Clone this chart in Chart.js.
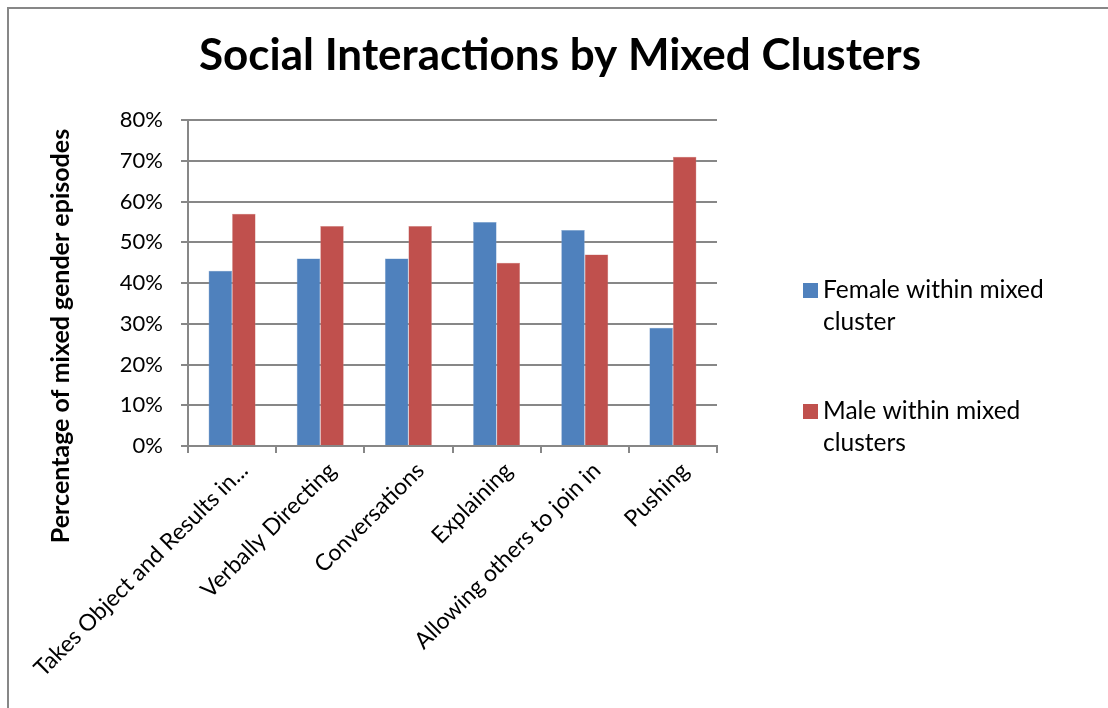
<!DOCTYPE html>
<html>
<head>
<meta charset="utf-8">
<script src="https://cdn.jsdelivr.net/npm/chart.js@4/dist/chart.umd.min.js"></script>
<style>
  body { margin: 0; background: #fff; }
  #wrap { position: relative; width: 1108px; height: 708px; }
  #frame { position: absolute; left: 7px; top: 7px; width: 1120px; height: 720px; border-left: 2px solid #878787; border-top: 2px solid #878787; pointer-events: none; }
</style>
</head>
<body>
<div id="wrap">
  <canvas id="chart" width="1108" height="708"></canvas>
  <div id="frame"></div>
</div>
<script>
const categories = ["Takes Object and Results in...", "Verbally Directing", "Conversations", "Explaining", "Allowing others to join in", "Pushing"];
const femaleValues = [43, 46, 46, 55, 53, 29];
const maleValues = [57, 54, 54, 45, 47, 71];
const seriesNames = [["Female within mixed", "cluster"], ["Male within mixed", "clusters"]];
const yTicks = [0, 10, 20, 30, 40, 50, 60, 70, 80];
const chartTitle = "Social Interactions by Mixed Clusters";
const yTitle = "Percentage of mixed gender episodes";

const FONT = "Lato, 'Open Sans', sans-serif";

// title centred on the whole canvas, y axis title + wrapped legend, Excel style
const extras = {
  id: "extras",
  afterDraw(chart) {
    const ctx = chart.ctx;
    ctx.save();
    ctx.fillStyle = "#000";
    ctx.font = "bold 44px " + FONT;
    ctx.textAlign = "center";
    ctx.textBaseline = "alphabetic";
    ctx.fillText(chartTitle, 560, 70);
    ctx.restore();

    ctx.save();
    ctx.fillStyle = "#000";
    ctx.font = "bold 25px " + FONT;
    ctx.textAlign = "center";
    ctx.textBaseline = "middle";
    ctx.translate(61, 336);
    ctx.rotate(-Math.PI / 2);
    ctx.fillText(yTitle, 0, 0);
    ctx.restore();

    ctx.save();
    ctx.font = "24.5px " + FONT;
    ctx.textBaseline = "middle";
    const starts = [290, 411];
    chart.data.datasets.forEach((ds, i) => {
      const y = starts[i];
      ctx.fillStyle = ds.backgroundColor;
      ctx.fillRect(803, y - 7, 15, 15);
      ctx.fillStyle = "#000";
      seriesNames[i].forEach((line, j) => ctx.fillText(line, 823, y + j * 32));
    });
    ctx.restore();
  }
};

new Chart(document.getElementById("chart"), {
  type: "bar",
  data: {
    labels: categories,
    datasets: [
      { label: seriesNames[0].join(" "), data: femaleValues, backgroundColor: "#4F81BD", borderColor: "#7A9FCC", borderWidth: 0.5, categoryPercentage: 0.533, barPercentage: 1 },
      { label: seriesNames[1].join(" "), data: maleValues, backgroundColor: "#C0504D", borderColor: "#D08886", borderWidth: 0.5, categoryPercentage: 0.533, barPercentage: 1 }
    ]
  },
  options: {
    responsive: false,
    animation: false,
    layout: { padding: { left: 8, right: 391, top: 120, bottom: 0 } },
    plugins: {
      legend: { display: false },
      tooltip: { enabled: false },
      title: { display: false }
    },
    scales: {
      x: {
        border: { color: "#878787", width: 2 },
        grid: { offset: true, drawOnChartArea: false, color: "#878787", lineWidth: 2, tickLength: 7 },
        ticks: { color: "#000", font: { family: FONT, size: 23 }, minRotation: 45, maxRotation: 45, autoSkip: false, padding: 4, labelOffset: 12 },
        afterFit(scale) { scale.height = 708 - 446; }
      },
      y: {
        min: 0,
        max: 80,
        border: { color: "#878787", width: 2 },
        grid: { color: "#878787", lineWidth: 2, tickLength: 7 },
        afterBuildTicks(scale) { scale.ticks = yTicks.map(v => ({ value: v })); },
        ticks: { color: "#000", font: { family: FONT, size: 22 }, padding: 18, callback: v => v + "%" },
        afterFit(scale) { scale.width = 188 - 8; }
      }
    }
  },
  plugins: [extras]
});
</script>
</body>
</html>
